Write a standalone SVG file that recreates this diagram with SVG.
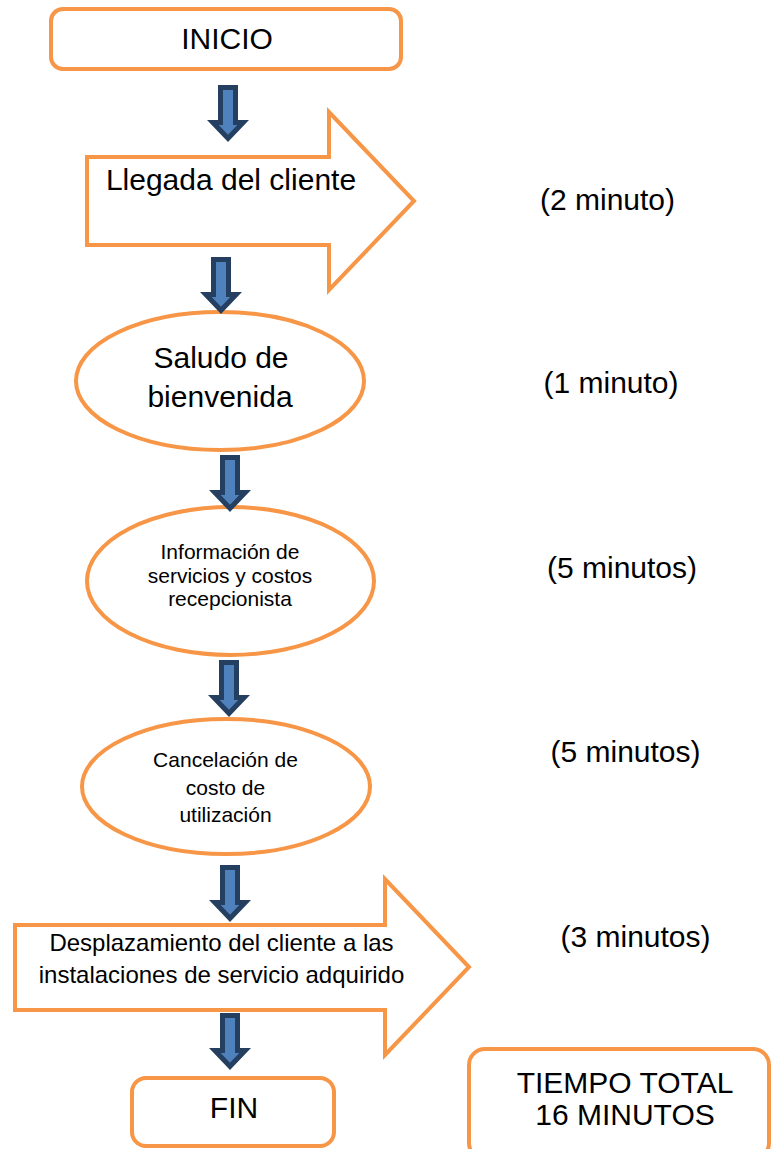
<svg xmlns="http://www.w3.org/2000/svg" xmlns:xlink="http://www.w3.org/1999/xlink" width="771" height="1149" viewBox="0 0 771 1149">
<style>
.node{fill:#FFFFFF;stroke:#F79646;stroke-width:4;stroke-linejoin:miter}
.t{font-family:"Liberation Sans",Arial,sans-serif;fill:#000000;text-anchor:middle}
.big{font-size:30px}
.mid{font-size:24px}
.sm{font-size:21px}
.outer{fill:#243F60}
.inner{fill:#4F81BD}
</style>
<defs>
<g id="down">
<path class="outer" d="M-10,0 H10 V35 H21 L0,57 L-21,35 H-10 Z"/>
<path class="inner" d="M-5,5 H5 V40 H9.3 L0,49.7 L-9.3,40 H-5 Z"/>
</g>
</defs>
<rect width="771" height="1149" fill="#FFFFFF"/>

<g id="n-inicio">
<rect class="node" x="51" y="9" width="350" height="60" rx="12"/>
<text class="t big" x="227" y="49">INICIO</text>
</g>

<g id="n-llegada">
<polygon class="node" points="87,157 329,157 329,112 414,201 329,290 329,245 87,245"/>
<text class="t big" x="231" y="190">Llegada del cliente</text>
</g>

<g id="n-saludo">
<ellipse class="node" cx="220" cy="381" rx="144" ry="69"/>
<text class="t big" x="221" y="368">Saludo de</text>
<text class="t big" x="220" y="407">bienvenida</text>
</g>

<g id="n-informacion">
<ellipse class="node" cx="230.5" cy="581" rx="143.5" ry="74"/>
<text class="t sm" x="230" y="559">Información de</text>
<text class="t sm" x="230" y="583">servicios y costos</text>
<text class="t sm" x="230" y="606">recepcionista</text>
</g>

<g id="n-cancelacion">
<ellipse class="node" cx="226" cy="786.5" rx="144" ry="67.5"/>
<text class="t sm" x="225.5" y="767">Cancelación de</text>
<text class="t sm" x="225.5" y="795">costo de</text>
<text class="t sm" x="225.5" y="822">utilización</text>
</g>

<g id="n-desplazamiento">
<polygon class="node" points="15,925 385,925 385,879 469,967 385,1055 385,1010 15,1010"/>
<text class="t mid" x="221.5" y="951">Desplazamiento del cliente a las</text>
<text class="t mid" x="221.5" y="983">instalaciones de servicio adquirido</text>
</g>

<g id="n-fin">
<rect class="node" x="132" y="1078" width="202" height="68" rx="14"/>
<text class="t big" x="234" y="1118">FIN</text>
</g>

<g id="n-total">
<rect class="node" x="469" y="1049" width="300" height="110" rx="16"/>
<text class="t big" x="625" y="1093">TIEMPO TOTAL</text>
<text class="t big" x="625" y="1125">16 MINUTOS</text>
</g>

<g id="times">
<text class="t big" x="607.5" y="210">(2 minuto)</text>
<text class="t big" x="611" y="393">(1 minuto)</text>
<text class="t big" x="622" y="578">(5 minutos)</text>
<text class="t big" x="625.5" y="762">(5 minutos)</text>
<text class="t big" x="635.5" y="947">(3 minutos)</text>
</g>

<g id="connectors">
<use xlink:href="#down" transform="translate(228,85)"/>
<use xlink:href="#down" transform="translate(221,257)"/>
<use xlink:href="#down" transform="translate(230,455)"/>
<use xlink:href="#down" transform="translate(229,660)"/>
<use xlink:href="#down" transform="translate(230,865)"/>
<use xlink:href="#down" transform="translate(230,1013)"/>
</g>
</svg>
